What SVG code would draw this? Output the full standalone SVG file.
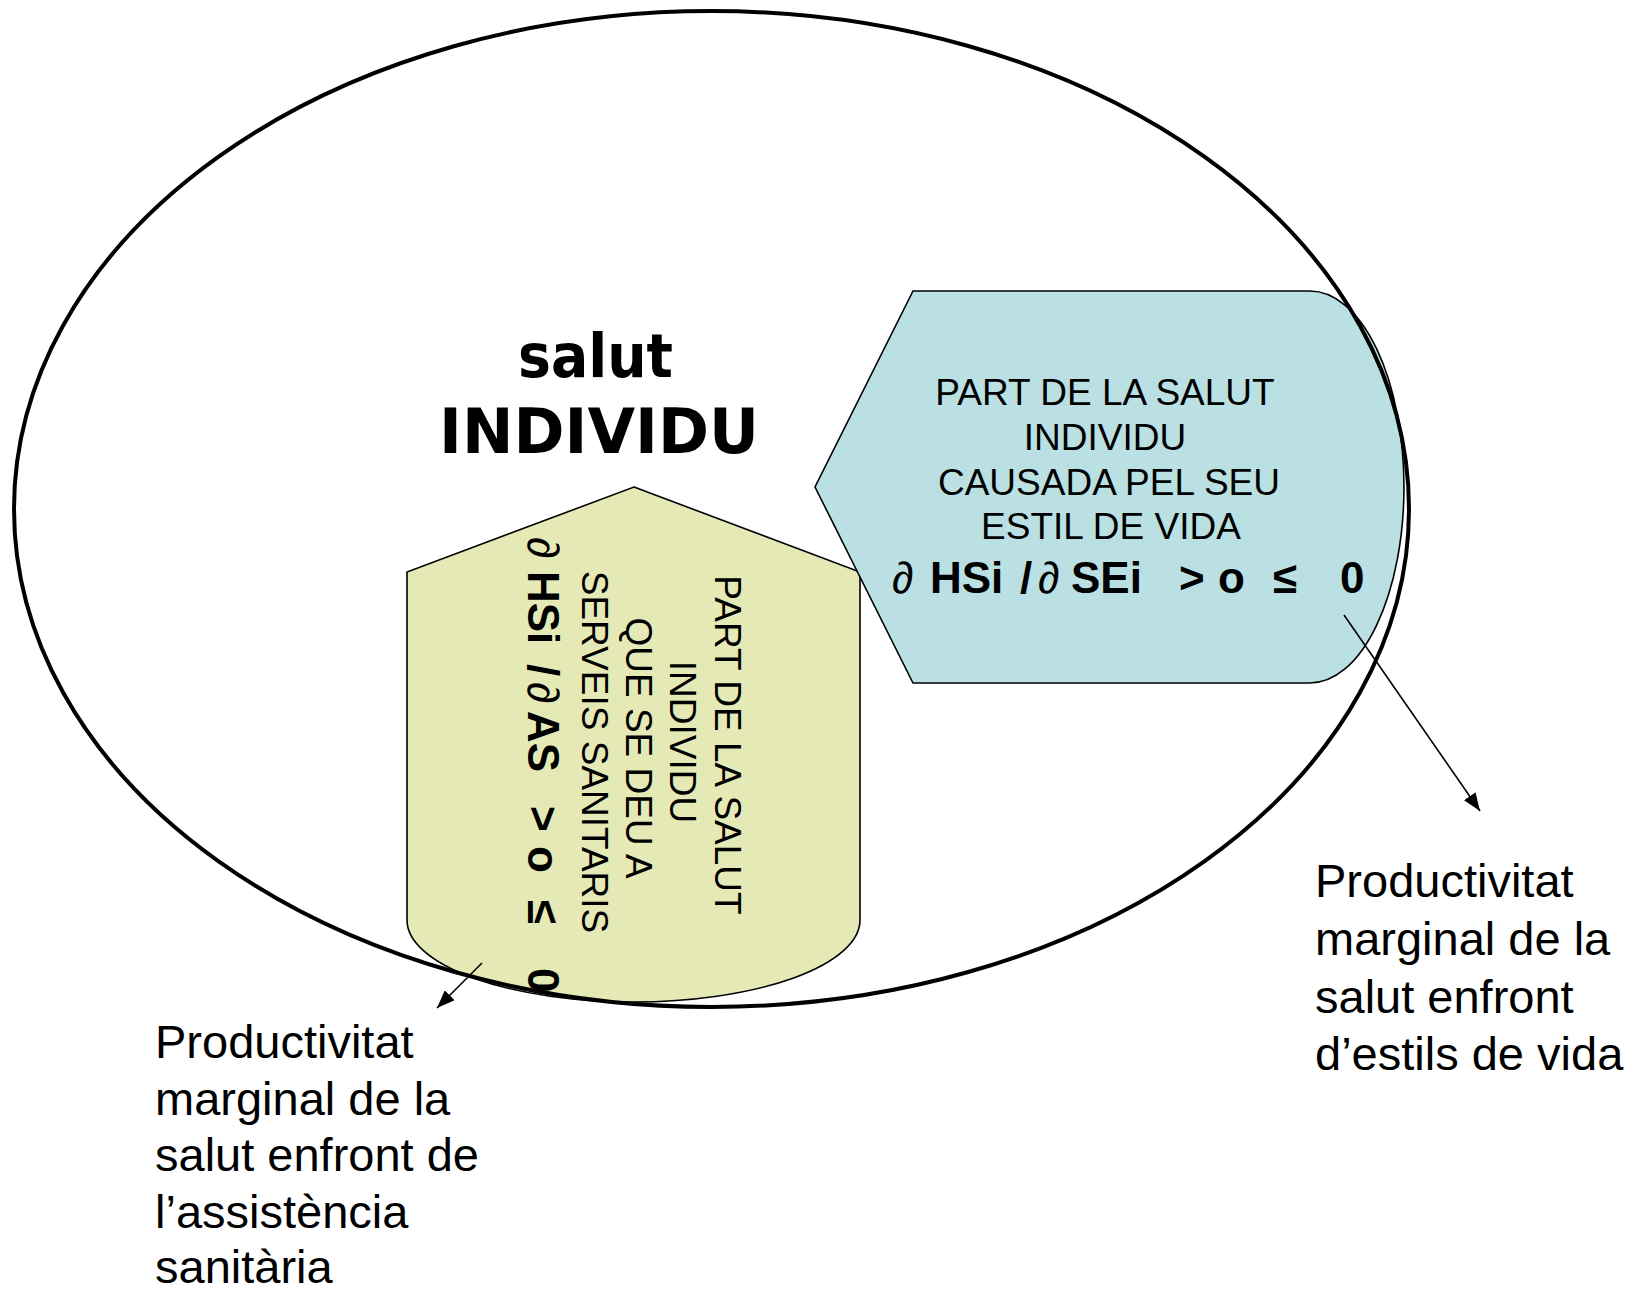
<svg xmlns="http://www.w3.org/2000/svg" width="1645" height="1294" viewBox="0 0 1645 1294">
<style>
.outline{fill:none;stroke:#000;stroke-width:4}
.shape{stroke:#000;stroke-width:1.6}
.lbl{font-family:"Liberation Sans",Arial,sans-serif;font-size:37px;fill:#000}
.frm{font-family:"Liberation Sans",Arial,sans-serif;font-size:44px;font-weight:bold;fill:#000}
.pd{font-weight:normal}
.ttl{font-family:"DejaVu Sans",Verdana,sans-serif;font-weight:bold;fill:#000}
.note{font-family:"Liberation Sans",Arial,sans-serif;font-size:47px;fill:#000}
.conn{stroke:#000;stroke-width:1.6;fill:none}
</style>
<defs>
<marker id="ah" markerUnits="userSpaceOnUse" markerWidth="20" markerHeight="14" refX="18" refY="7" orient="auto">
<path d="M0,0 L18,7 L0,14 Z" fill="#000"/>
</marker>
</defs>
<rect width="1645" height="1294" fill="#fff"/>
<g id="green-node">
<path class="shape" fill="#E4E9B5" d="M634,487 L860,572 L860,920 A226.5,82 0 0 1 407,920 L407,572 Z"/>
<g transform="rotate(90)">
<text class="lbl" text-anchor="middle" x="745" y="-715">PART DE LA SALUT</text>
<text class="lbl" text-anchor="middle" x="742" y="-670">INDIVIDU</text>
<text class="lbl" text-anchor="middle" x="748" y="-626">QUE SE DEU A</text>
<text class="lbl" text-anchor="middle" x="752" y="-582">SERVEIS SANITARIS</text>
<text class="frm" y="-528"><tspan class="pd" x="537">∂</tspan><tspan x="571">HSi</tspan><tspan x="664">/</tspan><tspan class="pd" x="682">∂</tspan><tspan x="711">AS</tspan><tspan x="806">&gt;</tspan><tspan x="846">o</tspan><tspan x="900">≤</tspan><tspan x="968">0</tspan></text>
</g>
</g>
<g id="blue-node">
<path class="shape" fill="#BAE0E4" d="M913,291 L1310,291 A94,196 0 0 1 1310,683 L913,683 L815,487 Z"/>
<text class="lbl" text-anchor="middle" x="1105" y="405">PART DE LA SALUT</text>
<text class="lbl" text-anchor="middle" x="1105" y="450">INDIVIDU</text>
<text class="lbl" text-anchor="middle" x="1109" y="495">CAUSADA PEL SEU</text>
<text class="lbl" text-anchor="middle" x="1111" y="539">ESTIL DE VIDA</text>
<text class="frm" y="593"><tspan class="pd" x="892">∂</tspan><tspan x="930">HSi</tspan><tspan x="1020">/</tspan><tspan class="pd" x="1038">∂</tspan><tspan x="1071">SEi</tspan><tspan x="1179">&gt;</tspan><tspan x="1218">o</tspan><tspan x="1273">≤</tspan><tspan x="1340">0</tspan></text>
</g>
<g id="salut-individu">
<ellipse class="outline" cx="711.5" cy="509" rx="697.5" ry="498"/>
<text class="ttl" x="518" y="377" font-size="60" textLength="155" lengthAdjust="spacingAndGlyphs">salut</text>
<text class="ttl" x="439" y="453" font-size="63" textLength="320" lengthAdjust="spacingAndGlyphs">INDIVIDU</text>
</g>
<g id="connectors">
<line class="conn" x1="1344" y1="615" x2="1480" y2="811" marker-end="url(#ah)"/>
<line class="conn" x1="482" y1="963" x2="437" y2="1008" marker-end="url(#ah)"/>
</g>
<g id="note-right">
<text class="note" x="1315" y="897">Productivitat</text>
<text class="note" x="1315" y="955">marginal de la</text>
<text class="note" x="1315" y="1013">salut enfront</text>
<text class="note" x="1315" y="1070">d’estils de vida</text>
</g>
<g id="note-left">
<text class="note" x="155" y="1058">Productivitat</text>
<text class="note" x="155" y="1115">marginal de la</text>
<text class="note" x="155" y="1171">salut enfront de</text>
<text class="note" x="155" y="1228">l’assistència</text>
<text class="note" x="155" y="1283">sanitària</text>
</g>
</svg>
